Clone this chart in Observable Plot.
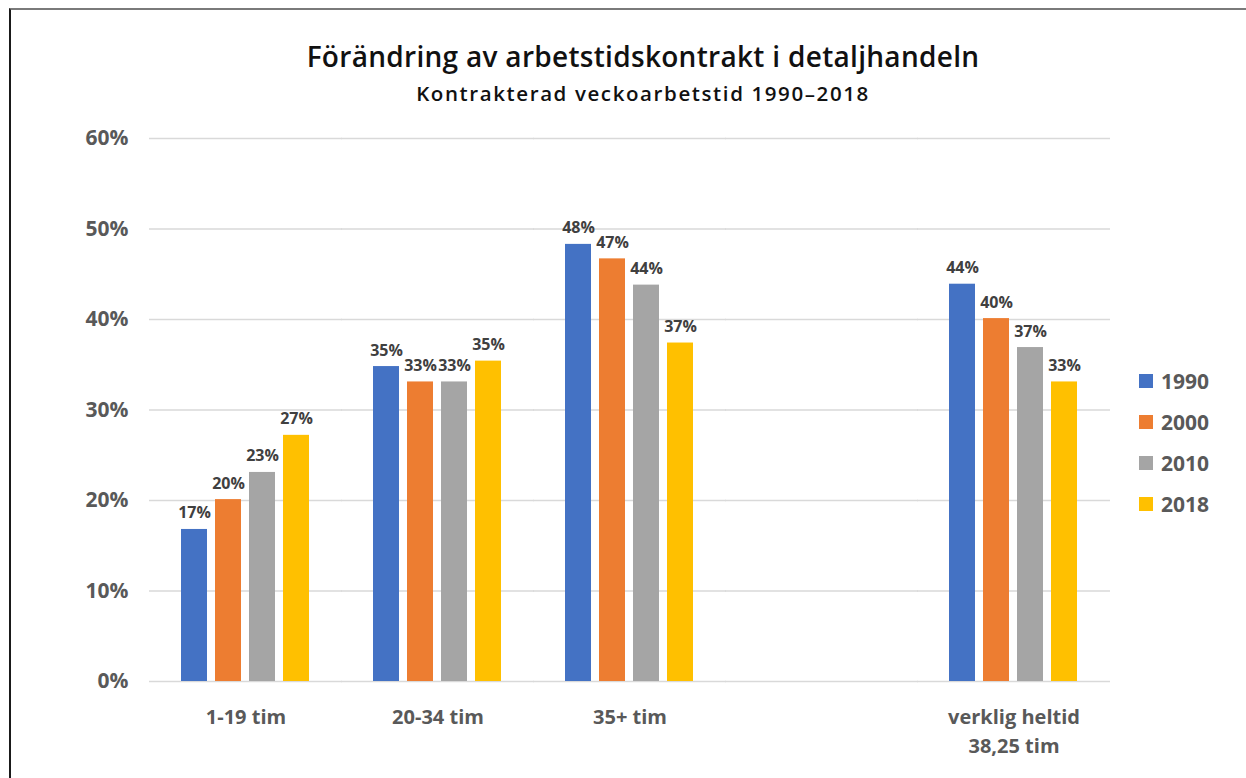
<!DOCTYPE html>
<html>
<head>
<meta charset="utf-8">
<script src="https://cdn.jsdelivr.net/npm/d3@7"></script>
<script src="https://cdn.jsdelivr.net/npm/@observablehq/plot@0.6"></script>
<style>
  html, body { margin: 0; padding: 0; background: #fff; }
  #page { position: relative; width: 1246px; height: 778px; overflow: hidden; font-family: "Open Sans", sans-serif; }
  #frame { position: absolute; left: 9px; top: 8px; right: 0; bottom: -10px; border-top: 2px solid #7a7a7a; border-left: 2px solid #1a1a1a; }
  #title { position: absolute; left: 0; width: 1286px; top: 38px; text-align: center; font-family: "Open Sans", sans-serif; font-weight: 600; font-size: 28px; line-height: 36px; letter-spacing: 0.3px; color: #111; }
  #subtitle { position: absolute; left: 0; width: 1286px; top: 79px; text-align: center; font-family: "Open Sans", sans-serif; font-weight: 600; font-size: 20.5px; line-height: 28px; letter-spacing: 1.6px; color: #111; }
  #chart { position: absolute; left: 0; top: 120px; }
  #legend { position: absolute; left: 1139px; top: 360px; }
  .li { display: flex; align-items: center; height: 41px; font-weight: 700; font-size: 21px; color: #595959; }
  .sw { width: 14px; height: 14px; margin-right: 8px; }
</style>
</head>
<body>
<div id="page">
  <div id="frame"></div>
  <div id="title">Förändring av arbetstidskontrakt i detaljhandeln</div>
  <div id="subtitle">Kontrakterad veckoarbetstid 1990–2018</div>
  <div id="chart"></div>
  <div id="legend"></div>
</div>
<script>
const categories = ["1-19 tim", "20-34 tim", "35+ tim", " ", "verklig heltid\n38,25 tim"];
const dataCategories = ["1-19 tim", "20-34 tim", "35+ tim", "verklig heltid\n38,25 tim"];
const years = ["1990", "2000", "2010", "2018"];
const values1990 = [16.8, 34.8, 48.3, 43.9];
const values2000 = [20.1, 33.1, 46.7, 40.1];
const values2010 = [23.1, 33.1, 43.8, 36.9];
const values2018 = [27.2, 35.4, 37.4, 33.1];
const yTicks = [0, 10, 20, 30, 40, 50, 60];
const colors = ["#4472C4", "#ED7D31", "#A5A5A5", "#FFC000"];

const series = [values1990, values2000, values2010, values2018];
const data = [];
dataCategories.forEach((cat, i) => {
  years.forEach((yr, j) => {
    data.push({cat, year: yr, value: series[j][i]});
  });
});

const chart = Plot.plot({
  width: 1246,
  height: 658,
  marginLeft: 148,
  marginRight: 134,
  marginTop: 18,
  marginBottom: 97,
  style: {fontFamily: "'Open Sans', sans-serif", background: "transparent"},
  fx: {domain: categories, paddingInner: 0.274, paddingOuter: 0.137, axis: null, label: null},
  x: {domain: years, paddingInner: 0.229, paddingOuter: 0.1145, axis: null, label: null},
  y: {domain: [0, 60], axis: null, label: null},
  color: {domain: years, range: colors},
  marks: [
    Plot.ruleY(yTicks, {y: d => d, stroke: "#d9d9d9", strokeWidth: 1.3, insetLeft: -27, insetRight: -27}),
    Plot.axisY({ticks: yTicks, tickSize: 0, tickPadding: 48, tickFormat: d => d + "%", fontSize: 21, fontWeight: 700, fill: "#595959", label: null}),
    Plot.barY(data, {fx: "cat", x: "year", y: "value", fill: "year"}),
    Plot.text(data, {fx: "cat", x: "year", y: "value", text: d => Math.round(d.value) + "%", lineAnchor: "bottom", dy: -11, fontSize: 16, fontWeight: 700, fill: "#404040"}),
    Plot.text(categories, {fx: d => d, text: d => d, frameAnchor: "bottom", lineAnchor: "top", dy: 22, fontSize: 20, fontWeight: 700, fill: "#595959", lineHeight: 1.45})
  ]
});
document.getElementById("chart").appendChild(chart);

const legend = document.getElementById("legend");
years.forEach((yr, j) => {
  const row = document.createElement("div");
  row.className = "li";
  const sw = document.createElement("div");
  sw.className = "sw";
  sw.style.background = colors[j];
  const lab = document.createElement("span");
  lab.textContent = yr;
  row.appendChild(sw);
  row.appendChild(lab);
  legend.appendChild(row);
});
</script>
</body>
</html>
